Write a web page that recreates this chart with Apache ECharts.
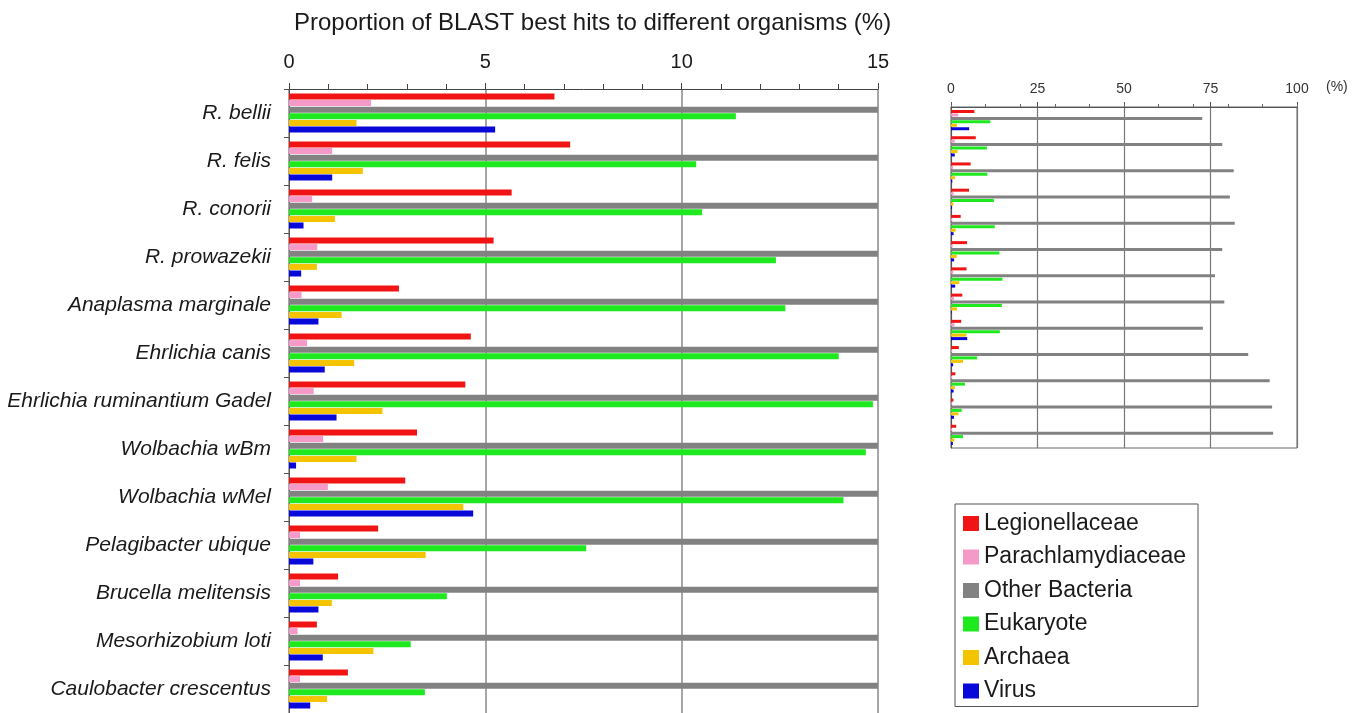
<!DOCTYPE html>
<html>
<head>
<meta charset="utf-8">
<script src="https://cdn.jsdelivr.net/npm/echarts@6/dist/echarts.min.js"></script>
<style>
html, body { margin: 0; padding: 0; background: #fff; overflow: hidden; }
#chart { width: 1361px; height: 713px; }
</style>
</head>
<body>
<div id="chart"></div>
<script>
// organisms (top to bottom)
var categories = ['R. bellii', 'R. felis', 'R. conorii', 'R. prowazekii', 'Anaplasma marginale',
	'Ehrlichia canis', 'Ehrlichia ruminantium Gadel', 'Wolbachia wBm', 'Wolbachia wMel',
	'Pelagibacter ubique', 'Brucella melitensis', 'Mesorhizobium loti', 'Caulobacter crescentus'];

// % of BLAST best hits
var legionellaceae = [6.76, 7.16, 5.67, 5.21, 2.80, 4.63, 4.49, 3.26, 2.96, 2.27, 1.25, 0.71, 1.50];
var parachlamydiaceae = [2.09, 1.10, 0.59, 0.72, 0.32, 0.46, 0.63, 0.87, 0.99, 0.28, 0.28, 0.22, 0.28];
var otherBacteria = [72.6, 78.4, 81.7, 80.6, 82.0, 78.4, 76.3, 79.0, 72.8, 85.9, 92.1, 92.8, 93.1];
var eukaryote = [11.38, 10.37, 10.52, 12.40, 12.64, 14.00, 14.87, 14.69, 14.12, 7.57, 4.02, 3.10, 3.46];
var archaea = [1.72, 1.88, 1.17, 0.71, 1.34, 1.66, 2.38, 1.72, 4.44, 3.48, 1.09, 2.15, 0.97];
var virus = [5.25, 1.10, 0.37, 0.31, 0.75, 0.91, 1.21, 0.18, 4.69, 0.62, 0.75, 0.86, 0.54];

var groupNames = ['Legionellaceae', 'Parachlamydiaceae', 'Other Bacteria', 'Eukaryote', 'Archaea', 'Virus'];
var groupColors = ['#f01414', '#f59ac8', '#828282', '#1ee81e', '#f5c400', '#0808d8'];
var groupData = [legionellaceae, parachlamydiaceae, otherBacteria, eukaryote, archaea, virus];

// tick labels
var zoomTicks = [0, 5, 10, 15];
var fullTicks = [0, 25, 50, 75, 100];

var font = "'Liberation Sans', Arial, sans-serif";
var chart = echarts.init(document.getElementById('chart'));

var series = [];
groupNames.forEach(function (name, i) {
	// left: zoomed view, 0-15 %
	series.push({
		name: name, type: 'bar', xAxisIndex: 0, yAxisIndex: 0,
		data: groupData[i], barWidth: 6, barGap: '10%', clip: true,
		itemStyle: { color: groupColors[i] }
	});
	// right: full view, 0-100 %
	series.push({
		name: name, type: 'bar', xAxisIndex: 1, yAxisIndex: 1,
		data: groupData[i], barWidth: 3, barGap: '15%',
		itemStyle: { color: groupColors[i] }
	});
});

var option = {
	animation: false,
	backgroundColor: '#fff',
	textStyle: { fontFamily: font },
	title: {
		text: 'Proportion of BLAST best hits to different organisms (%)',
		left: 289, top: 6,
		textStyle: { fontFamily: font, fontSize: 24, fontWeight: 'normal', color: '#1a1a1a' }
	},
	legend: {
		orient: 'vertical', left: 955, top: 504,
		data: groupNames,
		icon: 'rect', itemWidth: 16, itemHeight: 15, itemGap: 10.5,
		padding: [8, 12, 4, 8],
		borderColor: '#555', borderWidth: 1,
		textStyle: { fontFamily: font, fontSize: 23, color: '#1a1a1a' },
		selectedMode: false
	},
	graphic: [{
		type: 'text', left: 1326, top: 80,
		style: { text: '(%)', font: '14px ' + font, fill: '#333' }
	}],
	grid: [
		{ left: 289, top: 89, width: 589, height: 627 },
		{ left: 951, top: 107, width: 346, height: 341, show: true, borderColor: '#666', borderWidth: 1 }
	],
	xAxis: [
		{
			gridIndex: 0, type: 'value', position: 'top',
			min: zoomTicks[0], max: zoomTicks[zoomTicks.length - 1], interval: 5,
			axisLine: { show: true, lineStyle: { color: '#444' } },
			axisTick: { show: true, length: 6, lineStyle: { color: '#444' } },
			minorTick: { show: true, splitNumber: 5, length: 5, lineStyle: { color: '#444' } },
			axisLabel: { fontSize: 20, color: '#1a1a1a', margin: 17, fontFamily: font },
			splitLine: { show: true, lineStyle: { color: '#888', width: 1.5 } }
		},
		{
			gridIndex: 1, type: 'value', position: 'top',
			min: fullTicks[0], max: fullTicks[fullTicks.length - 1], interval: 25,
			axisLine: { show: true, lineStyle: { color: '#555' } },
			axisTick: { show: true, length: 5, lineStyle: { color: '#555' } },
			axisLabel: { fontSize: 14, color: '#333', margin: 11, fontFamily: font },
			splitLine: { show: true, lineStyle: { color: '#777', width: 1.2 } }
		},
		{
			gridIndex: 1, type: 'value', position: 'top',
			min: 0, max: 100, interval: 10,
			axisLine: { show: false },
			axisTick: { show: true, length: 3, lineStyle: { color: '#666' } },
			axisLabel: { show: false },
			splitLine: { show: false }
		}
	],
	yAxis: [
		{
			gridIndex: 0, type: 'category', data: categories, inverse: true,
			axisLine: { show: true, lineStyle: { color: '#555' } },
			axisTick: { show: true, length: 5, lineStyle: { color: '#555' } },
			axisLabel: { fontSize: 21, fontStyle: 'italic', color: '#1a1a1a', margin: 18, fontFamily: font }
		},
		{
			gridIndex: 1, type: 'category', data: categories, inverse: true,
			axisLine: { show: true, lineStyle: { color: '#555' } },
			axisTick: { show: false },
			axisLabel: { show: false }
		}
	],
	series: series
};

chart.setOption(option);
</script>
</body>
</html>
